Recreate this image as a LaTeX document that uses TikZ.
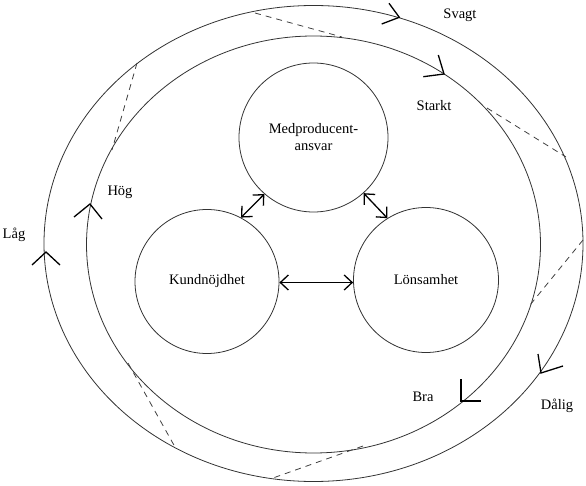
\documentclass[tikz,border=0pt]{standalone}
\usepackage{fontspec}
\setmainfont{Liberation Serif}
\usetikzlibrary{arrows.meta}
\begin{document}
\begin{tikzpicture}[x=1pt,y=-1pt,
  ring/.style={draw=black!80, line width=0.8pt},
  dsh/.style={draw=black!75, line width=0.8pt, dash pattern=on 6pt off 5pt},
  chev/.style={draw=black, line width=1.3pt},
  circ/.style={circle, draw=black!80, line width=0.8pt, inner sep=0pt, align=center,
               font=\fontsize{14.5}{17}\selectfont},
  lbl/.style={font=\fontsize{14.5}{17}\selectfont, inner sep=0pt},
  dbl/.style={line width=1.3pt, {Straight Barb[length=8pt,width=15pt]}-{Straight Barb[length=8pt,width=15pt]}}
]
\useasboundingbox (0,0) rectangle (586,486);
% rings
\draw[ring] (313.5,243.5) ellipse [x radius=269.5, y radius=238];
\draw[ring] (313.5,244.5) ellipse [x radius=227, y radius=208.5];
% dashed links between the rings
\draw[dsh] (137,63) -- (112,150);
\draw[dsh] (255,13) -- (342,37);
\draw[dsh] (487,108) -- (566,157);
\draw[dsh] (583,240) -- (530,305);
\draw[dsh] (363,446) -- (273,478);
\draw[dsh] (128,363) -- (175,447);
% chevrons
\draw[chev] (389,3.3) -- (399.3,17.3) -- (381.7,24);
\draw[chev] (438.3,55) -- (444,74) -- (423.3,76.7);
\draw[chev] (74,217) -- (90,204) -- (102,219);
\draw[chev] (32,265) -- (46,252) -- (60,265);
\draw[chev] (538,354) -- (541,373) -- (563,366);
\draw[chev] (461,379) -- (461,401) -- (481,401);
% labels
\node[lbl] (svagt) at (460,15) {Svagt};
\node[lbl] (starkt) at (434,106) {Starkt};
\node[lbl] (hog) at (120,192) {Hög};
\node[lbl] (lag) at (14,235) {Låg};
\node[lbl] (bra) at (423,397) {Bra};
\node[lbl] (dalig) at (557,406) {Dålig};
% circles
\node[circ, minimum size=149pt] (med) at (313.5,137.5) {Medproducent-\\ansvar};
\node[circ, minimum size=144pt] (kund) at (207,281.5) {Kundnöjdhet};
\node[circ, minimum size=145pt] (lon) at (426,280) {Lönsamhet};
% arrows
\draw[dbl] (kund.62) -- (med.229);
\draw[dbl] (med.312) -- (lon.122);
\draw[dbl] ([yshift=-1pt]kund.0) -- ([yshift=-2.5pt]lon.180);
\end{tikzpicture}
\end{document}
